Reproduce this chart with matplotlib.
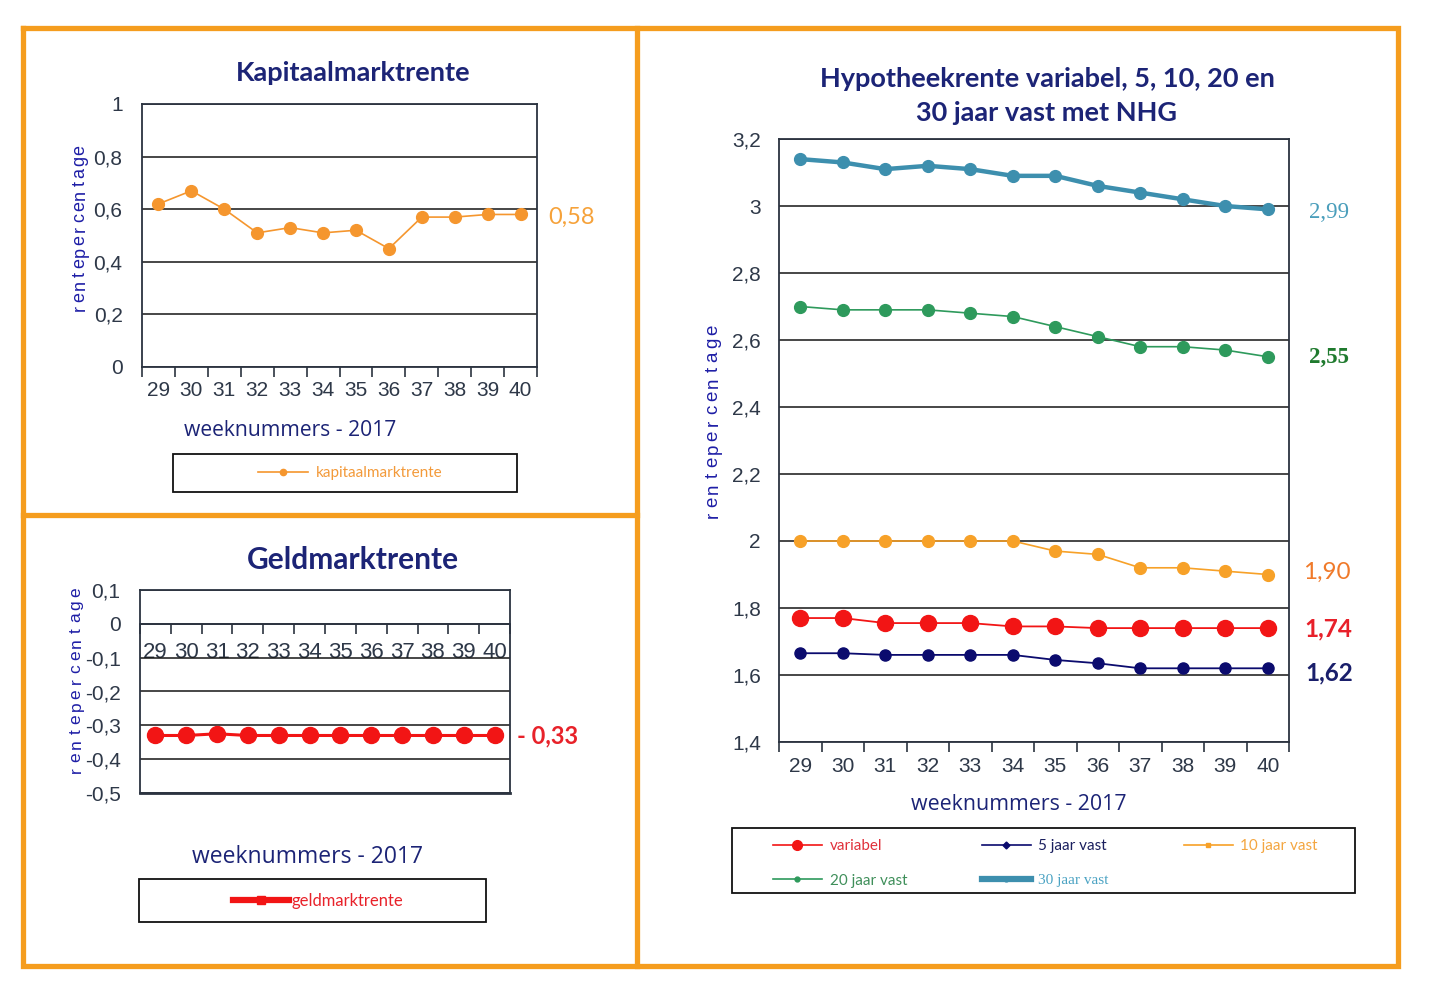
import matplotlib.pyplot as plt
import numpy as np
from matplotlib.lines import Line2D
from matplotlib.patches import Rectangle
from matplotlib.ticker import FuncFormatter
from matplotlib.transforms import blended_transform_factory, offset_copy

plt.rcParams['font.family'] = ['Liberation Sans', 'DejaVu Sans']

W, H = 1440, 994

# --- data ---
weeks = [29, 30, 31, 32, 33, 34, 35, 36, 37, 38, 39, 40]
kapitaal = [0.62, 0.67, 0.60, 0.51, 0.53, 0.51, 0.52, 0.45, 0.57, 0.57, 0.58, 0.58]
geld = [-0.33, -0.33, -0.325, -0.33, -0.33, -0.33, -0.33, -0.33, -0.33, -0.33, -0.33, -0.33]
variabel = [1.77, 1.77, 1.755, 1.755, 1.755, 1.745, 1.745, 1.74, 1.74, 1.74, 1.74, 1.74]
vast5 = [1.665, 1.665, 1.66, 1.66, 1.66, 1.66, 1.645, 1.635, 1.62, 1.62, 1.62, 1.62]
vast10 = [2.00, 2.00, 2.00, 2.00, 2.00, 2.00, 1.97, 1.96, 1.92, 1.92, 1.91, 1.90]
vast20 = [2.70, 2.69, 2.69, 2.69, 2.68, 2.67, 2.64, 2.61, 2.58, 2.58, 2.57, 2.55]
vast30 = [3.14, 3.13, 3.11, 3.12, 3.11, 3.09, 3.09, 3.06, 3.04, 3.02, 3.00, 2.99]

kapitaalTicks = [0, 0.2, 0.4, 0.6, 0.8, 1.0]
geldTicks = [-0.5, -0.4, -0.3, -0.2, -0.1, 0, 0.1]
hypoTicks = [1.4, 1.6, 1.8, 2.0, 2.2, 2.4, 2.6, 2.8, 3.0, 3.2]

xTitle = 'weeknummers - 2017'
yTitle = 'rentepercentage'

# --- colours ---
frameOrange = '#F59D1E'
navy = '#1C2476'
tickGrey = '#2E3848'
spineGrey = '#2B3340'
labelBlue = '#1E1EA6'
orange = '#F5962E'
red = '#F21515'
darkBlue = '#0B0B6E'
green = '#2E9A5C'
teal = '#3D8FAE'

fig = plt.figure(figsize=(W / 100, H / 100), dpi=100)
xs = np.arange(len(weeks))


def fx(x):
    return x / W


def fy(y):
    return 1 - y / H


def comma(v, pos=None):
    return f'{v:g}'.replace('.', ',')


def makeAxes(left, top, right, bottom):
    return fig.add_axes([fx(left), fy(bottom), (right - left) / W, (bottom - top) / H])


def styleAxes(ax, yticks, ypad, xpad, xsize=15, ysize=15):
    ax.set_xlim(-0.5, len(weeks) - 0.5)
    ax.set_ylim(yticks[0], yticks[-1])
    ax.set_yticks(yticks)
    ax.yaxis.set_major_formatter(FuncFormatter(comma))
    ax.set_xticks(xs)
    ax.set_xticklabels([str(w) for w in weeks])
    ax.set_xticks(np.arange(-0.5, len(weeks), 1), minor=True)
    ax.tick_params(axis='x', which='major', length=0, pad=xpad, labelsize=xsize, labelcolor=tickGrey)
    ax.tick_params(axis='x', which='minor', length=7, width=1.2, color=spineGrey, direction='out')
    ax.tick_params(axis='y', length=0, pad=ypad, labelsize=ysize, labelcolor=tickGrey)
    ax.grid(axis='y', color='#151515', lw=1.1)
    ax.set_axisbelow(True)
    for s in ax.spines.values():
        s.set_color(spineGrey)
        s.set_linewidth(1.3)


def stackedLabel(x, top, bottom, txt, size=13):
    # rotated letters squeezed together, like the original export
    ys = np.linspace(fy(bottom), fy(top), len(txt))
    for ch, y in zip(txt, ys):
        fig.text(fx(x), y, ch, rotation=90, ha='center', va='center',
                 fontsize=size, color=labelBlue)


def endLabel(ax, value, txt, color, dx, dy=0, **kw):
    trans = blended_transform_factory(ax.transAxes, ax.transData)
    trans = offset_copy(trans, fig=fig, x=0, y=-dy, units='dots')
    ax.text(1 + dx, value, txt, transform=trans, color=color, va='center', ha='left',
            clip_on=False, **kw)


def legendBox(left, top, right, bottom):
    fig.add_artist(Rectangle((fx(left), fy(bottom)), (right - left) / W, (bottom - top) / H,
                             transform=fig.transFigure, fill=False, ec='#111111', lw=1.3))


# --- orange frames ---
frameLines = [
    ([23, 1398, 1398, 23, 23], [28, 28, 966, 966, 28]),
    ([637, 637], [28, 966]),
    ([23, 637], [515, 515]),
]
for lx, ly in frameLines:
    fig.add_artist(Line2D([fx(v) for v in lx], [fy(v) for v in ly], transform=fig.transFigure,
                          color=frameOrange, lw=3.8, solid_joinstyle='miter'))

# --- Kapitaalmarktrente ---
ax1 = makeAxes(142, 104, 537, 367)
styleAxes(ax1, kapitaalTicks, ypad=14, xpad=10)
ax1.plot(xs, kapitaal, color=orange, lw=1.2, marker='o', ms=8.5)
endLabel(ax1, kapitaal[-1], f'{kapitaal[-1]:.2f}'.replace('.', ','), '#F6A23A', 0.028, dy=3,
         fontsize=17, family='Lato')
fig.text(fx(353), fy(73), 'Kapitaalmarktrente', ha='center', va='center', fontsize=19.5,
         fontweight='bold', family='Lato', color=navy)
fig.text(fx(290), fy(431), xTitle, ha='center', va='center', fontsize=15.2,
         family='Open Sans', color=navy)
stackedLabel(80, 150, 308, yTitle)
legendBox(173, 454, 517, 492)
fig.legend([Line2D([], [], color=orange, lw=1.2, marker='o', ms=4.5)], ['kapitaalmarktrente'],
           loc='center', bbox_to_anchor=(fx(350), fy(473)), frameon=False,
           prop={'family': 'Lato', 'size': 11}, handlelength=3.3, handletextpad=0.5,
           labelcolor='#F39A3A')

# --- Geldmarktrente ---
ax2 = makeAxes(140, 590, 510, 793)
styleAxes(ax2, geldTicks, ypad=14, xpad=13, xsize=16)
ax2.spines['bottom'].set_position(('data', 0))
ax2.axhline(geldTicks[0], color=spineGrey, lw=2.0, clip_on=False)
ax2.plot(xs, geld, color=red, lw=2.2, marker='o', ms=11.5)
endLabel(ax2, geld[-1], f'- {abs(geld[-1]):.2f}'.replace('.', ','), '#E8222A', 0.02,
         fontsize=17, family='Lato', fontweight='bold')
fig.text(fx(353), fy(560), 'Geldmarktrente', ha='center', va='center', fontsize=21.5,
         fontweight='bold', family='Lato', color=navy)
fig.text(fx(308), fy(857), xTitle, ha='center', va='center', fontsize=16.5,
         family='Open Sans', color=navy)
stackedLabel(76, 592, 770, yTitle, size=12.5)
legendBox(139, 879, 486, 922)
fig.legend([Line2D([], [], color=red, lw=4.5, marker='s', ms=6)], ['geldmarktrente'],
           loc='center', bbox_to_anchor=(fx(318), fy(901)), frameon=False,
           prop={'family': 'Lato', 'size': 12}, handlelength=3.4, handletextpad=0.15,
           labelcolor='#E8222A')

# --- Hypotheekrente ---
ax3 = makeAxes(779, 139, 1289, 742)
styleAxes(ax3, hypoTicks, ypad=13, xpad=11)
ax3.plot(xs, vast30, color=teal, lw=3.2, marker='o', ms=8.5)
ax3.plot(xs, vast20, color=green, lw=1.2, marker='o', ms=8.5)
ax3.plot(xs, vast10, color='#F7A128', lw=1.2, marker='o', ms=8.5)
ax3.plot(xs, variabel, color=red, lw=1.3, marker='o', ms=11.5)
ax3.plot(xs, vast5, color=darkBlue, lw=1.3, marker='o', ms=8)

endLabel(ax3, vast30[-1], f'{vast30[-1]:.2f}'.replace('.', ','), '#4A9EBB', 0.04, dy=3,
         fontsize=16.5, family='Liberation Serif')
endLabel(ax3, vast20[-1], f'{vast20[-1]:.2f}'.replace('.', ','), '#1F7A2E', 0.04, dy=1,
         fontsize=16.5, family='Liberation Serif', fontweight='bold')
endLabel(ax3, vast10[-1], f'{vast10[-1]:.2f}'.replace('.', ','), '#F07A2A', 0.027, dy=-2,
         fontsize=17.5, family='Lato')
endLabel(ax3, variabel[-1], f'{variabel[-1]:.2f}'.replace('.', ','), '#E8202A', 0.03, dy=1,
         fontsize=17.5, family='Lato', fontweight='bold')
endLabel(ax3, vast5[-1], f'{vast5[-1]:.2f}'.replace('.', ','), '#1A1F6B', 0.032, dy=5,
         fontsize=17.5, family='Lato', fontweight='bold')

fig.text(fx(1047), fy(96), 'Hypotheekrente variabel, 5, 10, 20 en\n30 jaar vast met NHG',
         ha='center', va='center', fontsize=19.5, fontweight='bold', family='Lato',
         color=navy, linespacing=1.5)
fig.text(fx(1019), fy(805), xTitle, ha='center', va='center', fontsize=15.4,
         family='Open Sans', color=navy)
stackedLabel(713, 330, 515, yTitle, size=13.5)

legendBox(732, 828, 1355, 893)
hypoHandles = [
    Line2D([], [], color=red, lw=1.2, marker='o', ms=7),
    Line2D([], [], color=green, lw=1.2, marker='o', ms=3.5),
    Line2D([], [], color=darkBlue, lw=1.2, marker='D', ms=3.5),
    Line2D([], [], color=teal, lw=4.5, marker='o', ms=3.5),
    Line2D([], [], color='#F7A128', lw=1.2, marker='s', ms=3.5),
]
hypoLabels = ['variabel', '20 jaar vast', '5 jaar vast', '30 jaar vast', '10 jaar vast']
hypoColors = ['#E0303A', '#3F8F5A', '#1A1F5E', '#4BA3C3', '#F4A640']
leg = fig.legend(hypoHandles, hypoLabels, ncol=3, loc='upper left',
                 bbox_to_anchor=(fx(773), fy(839)), frameon=False, borderpad=0,
                 borderaxespad=0, prop={'family': 'Lato', 'size': 11}, handlelength=3.2,
                 handletextpad=0.5, columnspacing=4.9, labelspacing=1.35)
for t, c in zip(leg.get_texts(), hypoColors):
    t.set_color(c)
leg.get_texts()[3].set_family('Liberation Serif')

fig.savefig('out.png', dpi=100)
